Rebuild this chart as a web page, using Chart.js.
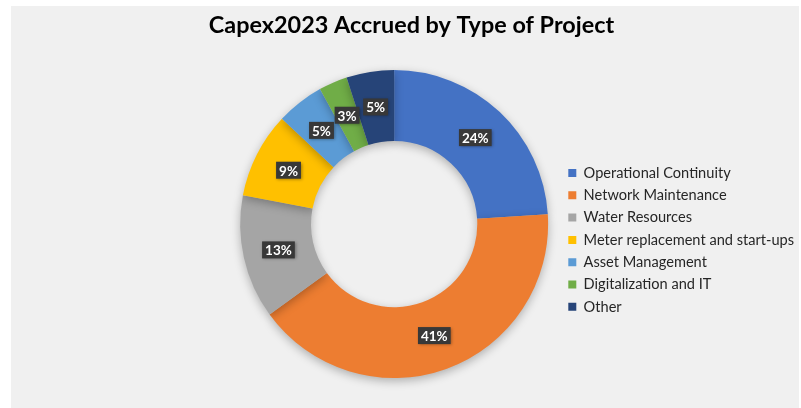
<!DOCTYPE html>
<html>
<head>
<meta charset="utf-8">
<script src="https://cdn.jsdelivr.net/npm/chart.js@4"></script>
<style>
  html, body { margin: 0; padding: 0; background: #ffffff; }
  #panel { position: absolute; left: 11px; top: 6px; width: 788px; height: 402px; background: #f0f0f0; }
</style>
</head>
<body>
<div id="panel"><canvas id="chart" width="788" height="402"></canvas></div>
<script>
// chart data
var theCategories = ["Operational Continuity", "Network Maintenance", "Water Resources",
  "Meter replacement and start-ups", "Asset Management", "Digitalization and IT", "Other"];
var theShares = [24, 41, 13, 9, 5, 3, 5];
var theColors = ["#4472c4", "#ed7d31", "#a5a5a5", "#ffc000", "#5b9bd5", "#70ad47", "#264478"];

// legend sizing, used to work out the side padding
var legendFontSize = 14.6;
var legendPadding = 7.7;
var legendBox = 8;
var legendLeft = 549.6;   // where the legend box should start
var ringLeft = 216.7;     // where the chart area should start

var measureCtx = document.createElement('canvas').getContext('2d');
measureCtx.font = legendFontSize + 'px Lato';
var widest = 0;
theCategories.forEach(function(c) {
	widest = Math.max(widest, measureCtx.measureText(c).width);
});
var legendWidth = legendPadding + legendBox + legendFontSize / 2 + widest + 10;
var padRight = 788 - legendWidth - legendLeft;
var padLeft = padRight + 13;

// empty box on the left, pushes the ring right without moving the title
// (display:false so it does not halve the legend's allowed width)
var leftSpacer = {
	id: 'leftSpacer',
	beforeInit: function(chart) {
		Chart.layouts.addBox(chart, {
			position: 'left',
			weight: 0,
			fullSize: false,
			options: { display: false },
			left: 0, top: 0, right: 0, bottom: 0, width: 0, height: 0,
			isHorizontal: function() { return false; },
			update: function(maxWidth, maxHeight) {
				this.width = ringLeft - padLeft;
				this.height = maxHeight;
			},
			draw: function() {}
		});
	}
};

// soft shadow under the ring
var ringShadow = {
	id: 'ringShadow',
	beforeDatasetsDraw: function(chart) {
		var ctx = chart.ctx;
		ctx.save();
		ctx.shadowColor = 'rgba(0,0,0,0.28)';
		ctx.shadowBlur = 10;
		ctx.shadowOffsetY = 3;
	},
	afterDatasetsDraw: function(chart) {
		chart.ctx.restore();
	}
};

// dark boxed percent labels
var percentLabels = {
	id: 'percentLabels',
	afterDatasetsDraw: function(chart) {
		var ctx = chart.ctx;
		var meta = chart.getDatasetMeta(0);
		ctx.save();
		ctx.font = 'bold 13.5px Lato';
		ctx.textAlign = 'center';
		ctx.textBaseline = 'middle';
		meta.data.forEach(function(arc, i) {
			var pos = arc.tooltipPosition();
			var text = theShares[i] + '%';
			var w = ctx.measureText(text).width + 6;
			var h = 17;
			ctx.shadowColor = 'rgba(0,0,0,0.35)';
			ctx.shadowBlur = 3;
			ctx.shadowOffsetX = 1;
			ctx.shadowOffsetY = 1;
			ctx.fillStyle = '#383838';
			ctx.fillRect(pos.x - w / 2, pos.y - h / 2, w, h);
			ctx.shadowColor = 'transparent';
			ctx.fillStyle = '#ffffff';
			ctx.fillText(text, pos.x, pos.y + 1);
		});
		ctx.restore();
	}
};

var chart = new Chart(document.getElementById("chart"), {
	type: 'doughnut',
	data: {
		labels: theCategories,
		datasets: [{
			data: theShares,
			backgroundColor: theColors,
			borderWidth: 0,
			hoverOffset: 0
		}]
	},
	options: {
		responsive: false,
		animation: false,
		cutout: '54%',
		layout: {
			padding: { left: padLeft, right: padRight, top: 0, bottom: 30 }
		},
		plugins: {
			title: {
				display: true,
				text: 'Capex2023 Accrued by Type of Project',
				color: '#000000',
				font: { family: 'Lato', size: 23.4, weight: 'bold' },
				padding: { top: 5, bottom: 31 }
			},
			legend: {
				position: 'right',
				align: 'center',
				title: { display: true, text: '', font: { size: 12 }, padding: 40.7 },
				labels: {
					color: '#262626',
					font: { family: 'Lato', size: legendFontSize },
					boxWidth: legendBox,
					boxHeight: legendBox,
					padding: legendPadding
				}
			},
			tooltip: { enabled: false }
		}
	},
	plugins: [leftSpacer, ringShadow, percentLabels]
});
</script>
</body>
</html>
